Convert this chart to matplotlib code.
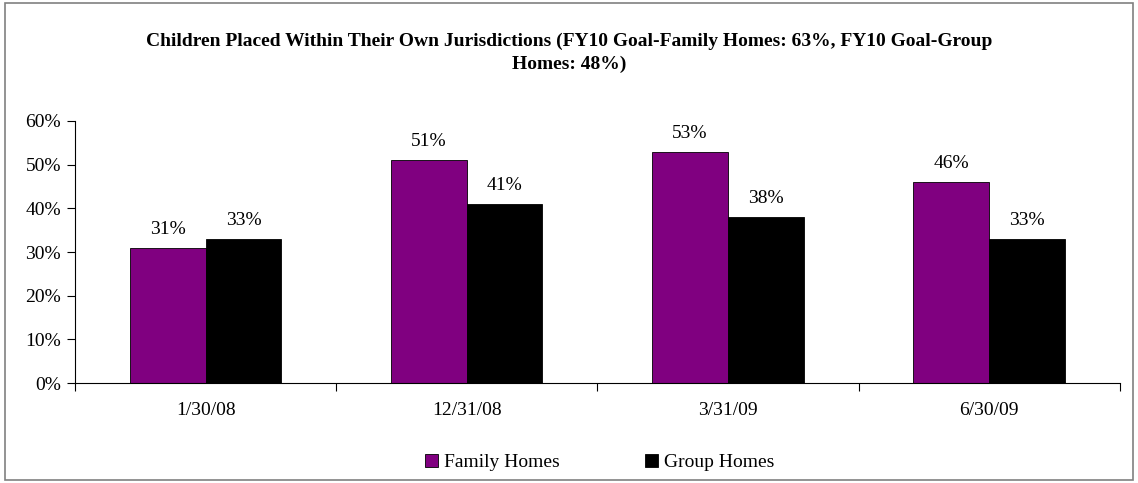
import matplotlib.pyplot as plt
import numpy as np
from matplotlib.patches import Rectangle

# data
dates = ['1/30/08', '12/31/08', '3/31/09', '6/30/09']
family_homes = [31, 51, 53, 46]
group_homes = [33, 41, 38, 33]

plt.rcParams['font.family'] = ['Liberation Serif', 'DejaVu Serif']

fig = plt.figure(figsize=(11.38, 4.83), dpi=100)
ax = fig.add_axes([0.0659, 0.207, 0.918, 0.5425])

# outer chart border
fig.patches.append(Rectangle((0.004, 0.006), 0.992, 0.988, transform=fig.transFigure,
                             fill=False, edgecolor='#808080', linewidth=1.2))

x = np.arange(len(dates))
w = 0.29
b1 = ax.bar(x - w / 2, family_homes, w, color='#800080', edgecolor='black', linewidth=0.6,
            label='Family Homes')
b2 = ax.bar(x + w / 2, group_homes, w, color='black', edgecolor='black', linewidth=0.6,
            label='Group Homes')

for bars in (b1, b2):
    for bar in bars:
        h = bar.get_height()
        ax.text(bar.get_x() + bar.get_width() / 2, h + 2.3, f'{h:.0f}%',
                ha='center', va='bottom', fontsize=14)

ax.set_xlim(-0.5, len(dates) - 0.5)
ax.set_ylim(0, 60)
ax.set_yticks(range(0, 61, 10))
ax.set_yticklabels([f'{v}%' for v in range(0, 61, 10)], fontsize=14)
ax.set_xticks(x)
ax.set_xticklabels(dates, fontsize=14)
ax.tick_params(axis='x', length=0, pad=14)
ax.set_xticks(np.arange(-0.5, len(dates), 1), minor=True)
ax.tick_params(axis='x', which='minor', length=6, width=0.8)
ax.tick_params(axis='y', length=6, width=0.8, direction='out', pad=4)

ax.spines['top'].set_visible(False)
ax.spines['right'].set_visible(False)

fig.text(0.5, 0.89, 'Children Placed Within Their Own Jurisdictions (FY10 Goal-Family Homes: 63%, FY10 Goal-Group\nHomes: 48%)',
         ha='center', va='center', fontsize=14, fontweight='bold', linespacing=1.45)

fig.legend(handles=[b1, b2], loc='center', bbox_to_anchor=(0.527, 0.043), ncol=2,
           frameon=False, fontsize=14, handlelength=0.65, handleheight=0.65,
           columnspacing=4.4, handletextpad=0.3)

fig.savefig('out.png', dpi=100)
